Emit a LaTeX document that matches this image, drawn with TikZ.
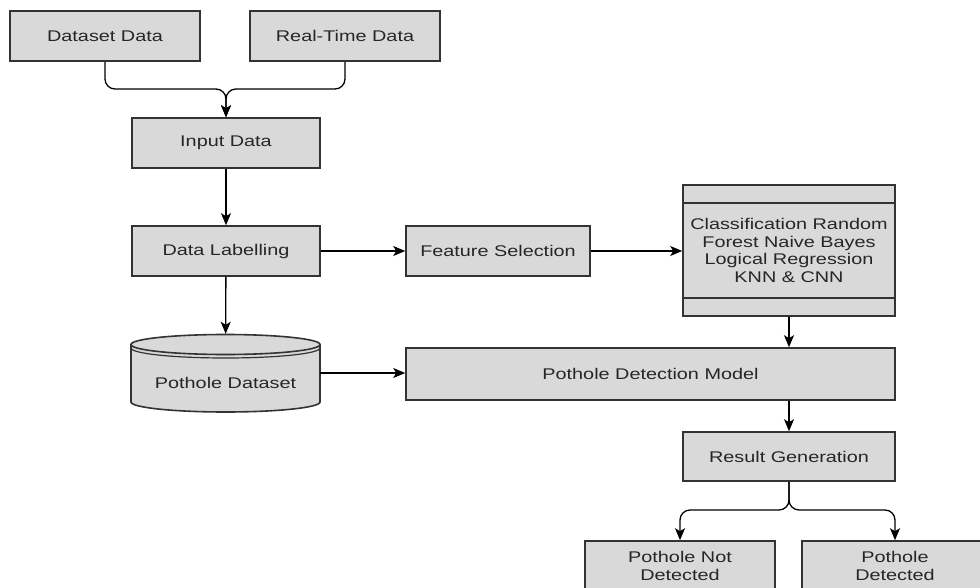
\documentclass[tikz,border=0pt]{standalone}
\usepackage{fontspec}
\setmainfont{Liberation Sans}[FakeStretch=1.28]
\usetikzlibrary{arrows.meta}
\definecolor{boxfill}{HTML}{D9D9D9}
\definecolor{boxline}{HTML}{333333}
\definecolor{txt}{HTML}{262626}
\begin{document}
\begin{tikzpicture}[x=1pt,y=-1pt,>={Stealth[length=12pt,width=10pt,inset=3pt]},
  box/.style={draw=boxline,line width=1.6pt,fill=boxfill,text=txt,align=center,inner sep=0pt,
    font=\fontsize{15.5}{18}\selectfont},
  flow/.style={->,line width=1.3pt}]
\useasboundingbox (0,0) rectangle (980,588);

\node[box,minimum width=190,minimum height=50] (dsdata) at (105,36) {Dataset Data};
\node[box,minimum width=190,minimum height=50] (rtdata) at (345,36) {Real-Time Data};
\node[box,minimum width=188,minimum height=50] (input) at (226,143) {Input Data};
\node[box,minimum width=188,minimum height=50] (label) at (226,251) {Data Labelling};
\node[box,minimum width=184,minimum height=50] (feature) at (498,251) {Feature Selection};
\node[box,minimum width=212,minimum height=131,font=\fontsize{15.5}{17.7}\selectfont] (classify) at (789,250.5)
  {Classification Random\\Forest Naive Bayes\\Logical Regression\\KNN \& CNN};
\draw[boxline,line width=1.6pt] ([yshift=-19pt]classify.north west) -- ([yshift=-19pt]classify.north east);
\draw[boxline,line width=1.6pt] ([yshift=19pt]classify.south west) -- ([yshift=19pt]classify.south east);
\node[box,minimum width=489,minimum height=52] (pdm) at (650.5,374) {Pothole Detection Model};
\node[box,minimum width=212,minimum height=49] (rgen) at (789,456.5) {Result Generation};
\node[box,minimum width=190,minimum height=50] (notdet) at (680,566) {Pothole Not\\Detected};
\node[box,minimum width=186,minimum height=50] (detected) at (895,566) {Pothole\\Detected};

% cylinder
\node[minimum width=188,minimum height=78] (dataset) at (225.5,373) {};
\path[fill=boxfill] (131,344.5) -- (131,402) arc[start angle=180,end angle=0,x radius=94.5,y radius=10]
  -- (320,344.5) -- cycle;
\draw[boxline,line width=1.6pt,fill=boxfill] (225.5,344.5) ellipse[x radius=94.5,y radius=10];
\draw[boxline,line width=1.6pt] (131,344.5) -- (131,402) arc[start angle=180,end angle=0,x radius=94.5,y radius=10]
  -- (320,344.5);
\draw[boxline,line width=1.2pt] (131,348) arc[start angle=180,end angle=0,x radius=94.5,y radius=10];
\node[text=txt,font=\fontsize{15.5}{18}\selectfont] (dstext) at (225.5,383) {Pothole Dataset};

\coordinate (join) at (226,89);
\coordinate (fork) at (789,510);

\draw[flow,rounded corners=10] (dsdata.south) |- (join) -- (input.north);
\draw[flow,rounded corners=10] (rtdata.south) |- (join) -- (input.north);
\draw[flow] (input) -- (label);
\draw[flow] (label) -- (dataset);
\draw[flow] (label) -- (feature);
\draw[flow] (feature.east) -- (feature.east -| classify.west);
\draw[flow] (classify.south) -- (classify.south |- pdm.north);
\draw[flow] (dataset.east) -- (dataset.east -| pdm.west);
\draw[flow] (rgen.north |- pdm.south) -- (rgen.north);
\draw[flow,rounded corners=10] (rgen.south) -- (fork) -| (notdet.north);
\draw[flow,rounded corners=10] (rgen.south) -- (fork) -| (detected.north);
\end{tikzpicture}
\end{document}
